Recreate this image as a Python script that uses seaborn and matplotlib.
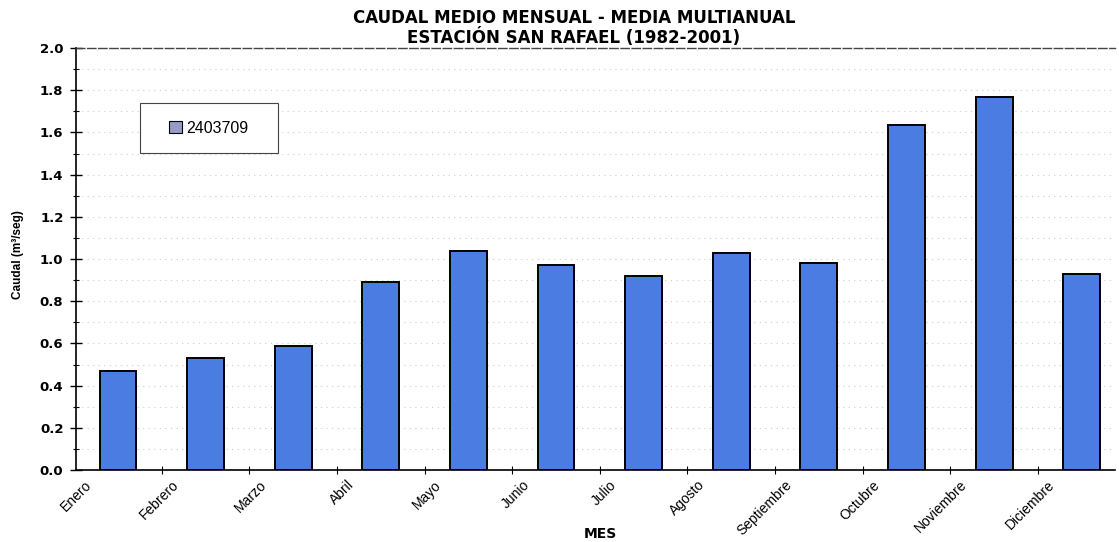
import matplotlib
matplotlib.use("Agg")
import matplotlib.pyplot as plt
import matplotlib.transforms as mtransforms
import seaborn as sns
import pandas as pd
import numpy as np
from matplotlib.patches import Patch, Rectangle
from matplotlib.ticker import FixedLocator, FormatStrFormatter

months = ["Enero", "Febrero", "Marzo", "Abril", "Mayo", "Junio", "Julio",
          "Agosto", "Septiembre", "Octubre", "Noviembre", "Diciembre"]
caudal = [0.47, 0.53, 0.59, 0.89, 1.04, 0.97, 0.92, 1.03, 0.98, 1.635, 1.77, 0.93]
series_name = "2403709"

sns.set_theme(style="white")
plt.rcParams["font.family"] = ["Liberation Sans", "DejaVu Sans"]
plt.rcParams["text.color"] = "black"
plt.rcParams["axes.labelcolor"] = "black"
plt.rcParams["xtick.color"] = "black"
plt.rcParams["ytick.color"] = "black"

df = pd.DataFrame({"MES": months, "Caudal": caudal})

fig = plt.figure(figsize=(11.19, 5.42), dpi=100)
ax = fig.add_axes([76/1119, 72/542, 1039/1119, 422/542])

sns.barplot(data=df, x="MES", y="Caudal", color="#4a7ce2", saturation=1,
            width=0.42, edgecolor="black", linewidth=1.4, ax=ax, zorder=3)

ax.set_xlim(-0.48, 11.38)
ax.set_ylim(0, 2.0)
ax.yaxis.set_major_locator(FixedLocator(np.round(np.arange(0, 2.01, 0.2), 1)))
ax.yaxis.set_minor_locator(FixedLocator(np.round(np.arange(0.1, 2.0, 0.2), 1)))
ax.yaxis.set_major_formatter(FormatStrFormatter("%.1f"))
ax.tick_params(axis="y", which="major", direction="inout", length=8, width=1, left=True, pad=5,
               labelsize=9.5, colors="black")
ax.tick_params(axis="y", which="minor", direction="inout", length=5, width=0.8, left=True,
               colors="black")
for lab in ax.get_yticklabels():
    lab.set_fontfamily("DejaVu Sans")
    lab.set_fontweight("bold")

ax.xaxis.set_minor_locator(FixedLocator(np.arange(0.5, 11.5, 1)))
ax.tick_params(axis="x", which="major", length=0, pad=2, colors="black")
ax.tick_params(axis="x", which="minor", direction="inout", length=6, width=0.8, bottom=True,
               colors="black")
ax.set_xticks(range(len(months)))
ax.set_xticklabels(months, rotation=45, ha="right", va="top", rotation_mode="anchor",
                   fontsize=10, color="black")
offset = mtransforms.ScaledTranslation(-34/100, -5/100, fig.dpi_scale_trans)
for lab in ax.get_xticklabels():
    lab.set_transform(lab.get_transform() + offset)

ax.grid(True, axis="y", which="both", color="#cccccc", linestyle=(0, (1, 4)), linewidth=0.8, zorder=0)

ax.spines["right"].set_visible(False)
ax.spines["top"].set_color("#444444")
ax.spines["top"].set_linestyle((0, (6, 2)))
ax.spines["top"].set_linewidth(1.0)
ax.spines["left"].set_color("black")
ax.spines["bottom"].set_color("black")
ax.spines["left"].set_linewidth(1.2)
ax.spines["bottom"].set_linewidth(1.2)

ax.set_xlabel("MES", fontsize=10, fontweight="bold", fontfamily="DejaVu Sans", color="black")
ax.xaxis.label.set_va("center")
ax.xaxis.set_label_coords(0.505, -0.152)
ax.set_ylabel("Caudal (m³/seg)", fontsize=8.5, fontweight="bold", color="black")
ax.yaxis.set_label_coords(-0.05, 0.51)

fig.text(0.513, 0.967, "CAUDAL MEDIO MENSUAL - MEDIA MULTIANUAL", ha="center", va="center",
         fontsize=12, fontweight="bold", fontfamily="DejaVu Sans", color="black")
fig.text(0.513, 0.931, "ESTACIÓN SAN RAFAEL (1982-2001)", ha="center", va="center",
         fontsize=12, fontweight="bold", fontfamily="DejaVu Sans", color="black")

# legend frame (drawn as a box around the single legend entry)
ax.add_patch(Rectangle((0.0616, 0.7512), 0.1328, 0.1185, transform=ax.transAxes,
                       facecolor="white", edgecolor="#444444", linewidth=0.8, zorder=4))
handle = Patch(facecolor="#9a9ac8", edgecolor="black", linewidth=0.8, label=series_name)
leg = ax.legend(handles=[handle], loc="center", bbox_to_anchor=(0.128, 0.810),
                prop={"size": 11.5}, frameon=False, labelcolor="black",
                handlelength=0.8, handleheight=0.8, handletextpad=0.3, borderaxespad=0)
leg.set_zorder(5)

fig.savefig("out.png", dpi=100)
